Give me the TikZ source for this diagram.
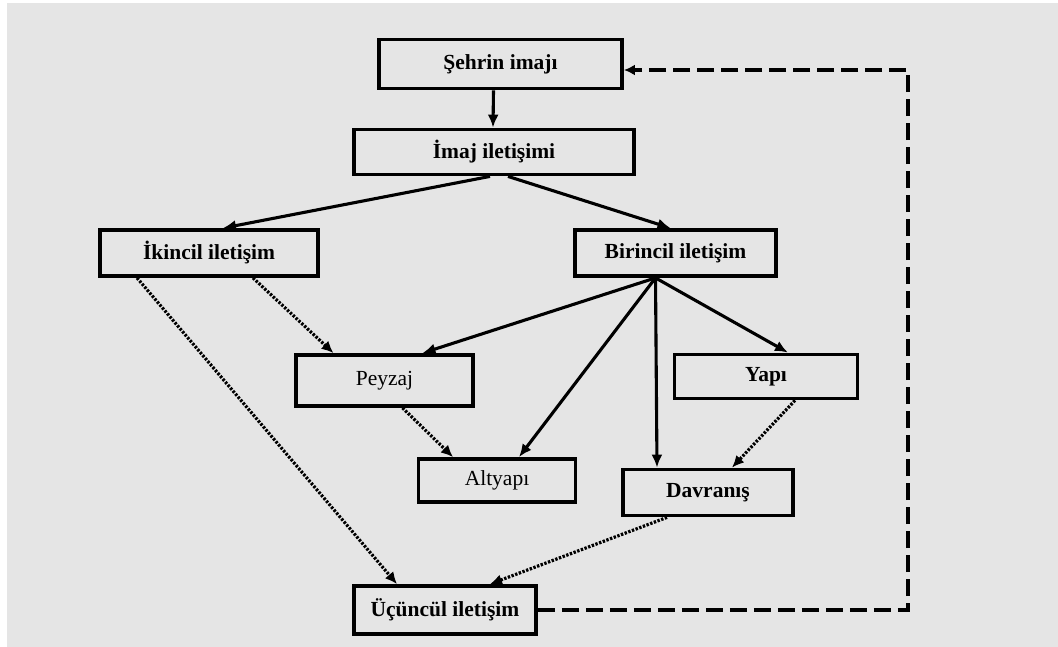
\documentclass[tikz,border=0pt]{standalone}
\usepackage{fontspec}
\setmainfont{Liberation Serif}
\usetikzlibrary{arrows.meta}
\definecolor{panel}{HTML}{E5E5E5}
\begin{document}
\begin{tikzpicture}[x=1pt,y=-1pt,
  box/.style={draw, line width=3.8pt, rectangle, inner sep=0pt, fill=panel, font=\fontsize{21.5}{24}\selectfont},
  boldbox/.style={box, font=\fontsize{21.5}{24}\selectfont\bfseries},
  solidarrow/.style={line width=3.1pt, -{Latex[length=13pt,width=11pt]}},
  dotarrow/.style={line width=3.2pt, dash pattern=on 2.4pt off 1.5pt, -{Latex[length=12pt,width=11pt]}},
  dasharrow/.style={line width=4pt, dash pattern=on 17pt off 7pt, -{Latex[length=11pt,width=11pt]}}
]
\useasboundingbox (0,0) rectangle (1058,647);
\fill[white] (0,0) rectangle (1058,647);
\fill[panel] (7,3) rectangle (1058,647);

% boxes
\node[boldbox, minimum width=243pt, minimum height=49pt] (sehir) at (500.5,64) {Şehrin imajı};
\node[boldbox, minimum width=280pt, minimum height=45pt] (imaj) at (494,152) {İmaj iletişimi};
\node[boldbox, minimum width=218pt, minimum height=46pt] (ikincil) at (209,253) {İkincil iletişim};
\node[boldbox, minimum width=201pt, minimum height=46pt] (birincil) at (675.5,253) {Birincil iletişim};
\node[box, minimum width=177pt, minimum height=51pt] (peyzaj) at (384.5,380.5) {Peyzaj};
\node[boldbox, minimum width=183pt, minimum height=44pt] (yapi) at (766,376.5) {Yapı};
\node[box, minimum width=157pt, minimum height=43pt] (altyapi) at (497,480.5) {Altyapı};
\node[boldbox, minimum width=170pt, minimum height=46pt] (davranis) at (708,492.5) {Davranış};
\node[boldbox, minimum width=182pt, minimum height=48pt] (ucuncul) at (445,610) {Üçüncül iletişim};

% primary flow
\draw[solidarrow] ([xshift=-7pt]sehir.south) -- ([xshift=-1pt]imaj.north);
\draw[solidarrow] ([xshift=-4pt]imaj.south) -- ([xshift=14pt]ikincil.north);
\draw[solidarrow] ([xshift=14pt]imaj.south) -- ([xshift=-5pt]birincil.north);
\coordinate (bfork) at ([xshift=-20pt]birincil.south);
\draw[solidarrow] (bfork) -- ([xshift=38pt]peyzaj.north);
\draw[solidarrow] (bfork) -- ([xshift=22pt]altyapi.north);
\draw[solidarrow] (bfork) -- ([xshift=-51pt]davranis.north);
\draw[solidarrow] (bfork) -- ([xshift=22pt]yapi.north);

% secondary and tertiary links
\draw[dotarrow] ([xshift=44pt]ikincil.south) -- ([xshift=-51pt]peyzaj.north);
\draw[dotarrow] ([xshift=-72pt]ikincil.south) -- ([xshift=-48pt]ucuncul.north);
\draw[dotarrow] ([xshift=18pt]peyzaj.south) -- ([xshift=-44pt]altyapi.north);
\draw[dotarrow] ([xshift=29pt]yapi.south) -- ([xshift=24pt]davranis.north);
\draw[dotarrow] ([xshift=-41pt]davranis.south) -- ([xshift=45pt]ucuncul.north);

% feedback loop
\coordinate (loopx) at (908,0);
\coordinate (sehirin) at ([yshift=-6pt]sehir.east);
\draw[dasharrow] (ucuncul.east) -- (ucuncul.east -| loopx) -- (loopx |- sehirin) -- (sehirin);
\end{tikzpicture}
\end{document}
